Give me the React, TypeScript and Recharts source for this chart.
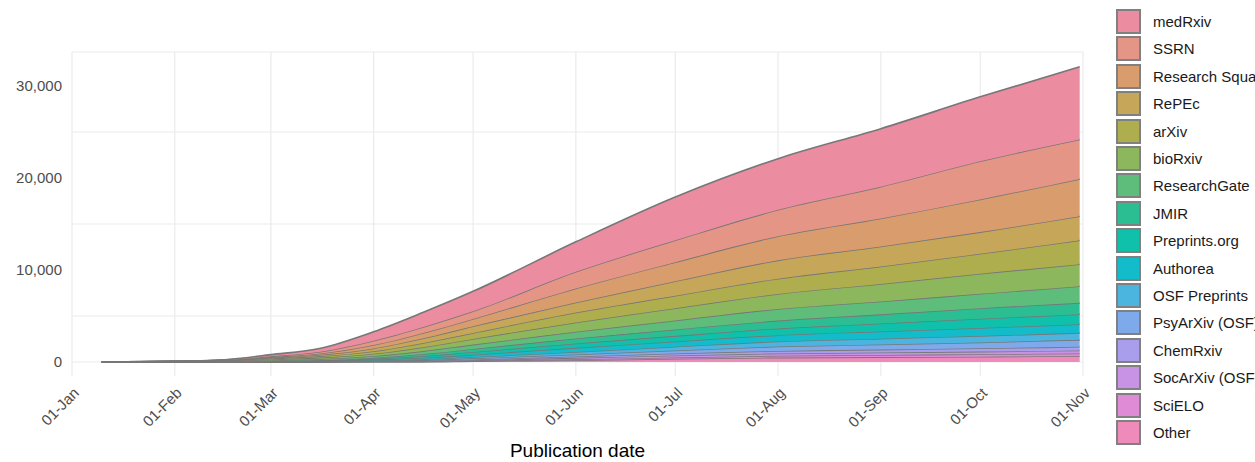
import React from 'react';
import { AreaChart, Area, XAxis, YAxis, CartesianGrid, Label } from 'recharts';

// day of year (2020) for each reading
const days = [9, 31, 46, 60, 75, 91, 106, 121, 152, 182, 213, 244, 274, 304];

const monthTicks = [0, 31, 60, 91, 121, 152, 182, 213, 244, 274, 305];
const monthLabels = ['01-Jan', '01-Feb', '01-Mar', '01-Apr', '01-May', '01-Jun', '01-Jul', '01-Aug', '01-Sep', '01-Oct', '01-Nov'];
const yTicks = [0, 10000, 20000, 30000];
const yMinor = [5000, 15000, 25000];

// cumulative preprints per server, read at the dates above
const medRxiv = [0, 10, 40, 180, 380, 980, 1600, 2170, 3260, 4700, 5550, 6300, 7000, 7900];
const ssrn = [0, 5, 15, 90, 200, 470, 650, 830, 1810, 2380, 2870, 3450, 4150, 4300];
const researchSquare = [0, 0, 10, 60, 130, 360, 580, 800, 1520, 2080, 2630, 3050, 3550, 4050];
const repec = [0, 10, 25, 90, 150, 300, 500, 720, 1090, 1560, 1990, 2180, 2360, 2610];
const arxiv = [0, 15, 50, 100, 160, 280, 460, 650, 1080, 1360, 1660, 1900, 2170, 2600];
const biorxiv = [0, 20, 50, 110, 160, 250, 430, 620, 1020, 1330, 1640, 1900, 2180, 2400];
const researchGate = [0, 5, 20, 60, 110, 180, 320, 470, 720, 990, 1260, 1400, 1560, 1800];
const jmir = [0, 0, 0, 10, 30, 100, 200, 330, 550, 690, 850, 990, 1150, 1230];
const preprintsOrg = [0, 5, 15, 40, 60, 110, 200, 290, 470, 600, 730, 870, 1000, 1090];
const authorea = [0, 0, 5, 20, 40, 90, 170, 250, 440, 570, 690, 780, 870, 940];
const osfPreprints = [0, 0, 5, 10, 20, 50, 90, 150, 280, 410, 550, 630, 700, 760];
const psyarxiv = [0, 0, 0, 5, 15, 40, 70, 120, 220, 340, 480, 560, 640, 760];
const chemrxiv = [0, 5, 5, 10, 15, 30, 50, 80, 150, 210, 270, 320, 360, 390];
const socarxiv = [0, 0, 0, 5, 10, 20, 40, 60, 140, 210, 250, 270, 290, 330];
const scielo = [0, 0, 0, 0, 5, 10, 20, 40, 110, 150, 200, 230, 260, 280];
const other = [0, 5, 10, 10, 15, 20, 25, 100, 200, 350, 480, 530, 580, 650];

const seriesNames = [
  'medRxiv', 'SSRN', 'Research Square', 'RePEc', 'arXiv', 'bioRxiv', 'ResearchGate', 'JMIR',
  'Preprints.org', 'Authorea', 'OSF Preprints', 'PsyArXiv (OSF)', 'ChemRxiv', 'SocArXiv (OSF)', 'SciELO', 'Other',
];
const seriesValues = [
  medRxiv, ssrn, researchSquare, repec, arxiv, biorxiv, researchGate, jmir,
  preprintsOrg, authorea, osfPreprints, psyarxiv, chemrxiv, socarxiv, scielo, other,
];
const seriesColors = [
  '#EB8CA1', '#E59585', '#D99C6C', '#C6A75A', '#AEAE4E', '#8DB75C', '#5FBD7B', '#2CBE93',
  '#0FC0AA', '#12BCCB', '#4CB5DF', '#7EA9EA', '#A99EEC', '#C892E5', '#E08BD6', '#EE8BBA',
];

const Y_MIN = -1522;
const Y_MAX = 33696;

const data = days.map((day, i) => {
  const row: Record<string, number> = { day };
  seriesValues.forEach((vals, s) => {
    row[`s${s}`] = vals[i];
  });
  return row;
});

const fontFamily = '"Liberation Sans", Arial, sans-serif';

const XTick = (props: any) => {
  const { x, y, payload } = props;
  const idx = monthTicks.indexOf(payload.value);
  return (
    <g transform={`translate(${x},${y + 8})`}>
      <text x={0} y={0} dy="0.75em" textAnchor="end" transform="rotate(-45)" fill="#4d4d4d" fontSize={15}>
        {monthLabels[idx]}
      </text>
    </g>
  );
};

const LegendBox = () => (
  <div style={{ position: 'absolute', left: 1116, top: 9, fontSize: 15, color: '#1a1a1a' }}>
    {seriesNames.map((name, i) => (
      <div key={name} style={{ position: 'absolute', left: 0, top: i * 27.4, height: 25, display: 'flex', alignItems: 'center', whiteSpace: 'nowrap' }}>
        <div style={{ width: 25, height: 25, boxSizing: 'border-box', border: '2px solid #808080', background: seriesColors[i] }} />
        <span style={{ marginLeft: 12 }}>{name}</span>
      </div>
    ))}
  </div>
);

export default function App() {
  const order = seriesNames.map((_, i) => i).reverse();
  return (
    <div style={{ position: 'absolute', left: 0, top: 0, width: 1255, height: 462, overflow: 'hidden', background: '#fff', fontFamily }}>
      <AreaChart width={1255} height={462} data={data} margin={{ top: 52, right: 172, bottom: 0, left: 0 }}>
        <CartesianGrid
          stroke="#EBEBEB"
          strokeWidth={1.2}
          horizontalValues={[Y_MIN, ...yTicks, ...yMinor, Y_MAX]}
          verticalValues={monthTicks}
        />
        <XAxis
          dataKey="day"
          type="number"
          domain={[0, 305]}
          ticks={monthTicks}
          interval={0}
          height={86}
          axisLine={false}
          tickLine={false}
          tickSize={0}
          tick={<XTick />}
        >
          <Label value="Publication date" position="insideBottom" offset={5} fill="#000" fontSize={19} />
        </XAxis>
        <YAxis
          type="number"
          domain={[Y_MIN, Y_MAX]}
          allowDataOverflow
          ticks={yTicks}
          width={72}
          axisLine={false}
          tickLine={false}
          tickSize={0}
          tickMargin={10}
          tick={{ fill: '#4d4d4d', fontSize: 15 }}
          tickFormatter={(v: number) => v.toLocaleString('en-US')}
        />
        {order.map((i) => (
          <Area
            key={i}
            type="monotoneX"
            dataKey={`s${i}`}
            name={seriesNames[i]}
            stackId="1"
            fill={seriesColors[i]}
            fillOpacity={1}
            stroke="#777777"
            strokeWidth={1.6}
            isAnimationActive={false}
          />
        ))}
      </AreaChart>
      <LegendBox />
    </div>
  );
}
